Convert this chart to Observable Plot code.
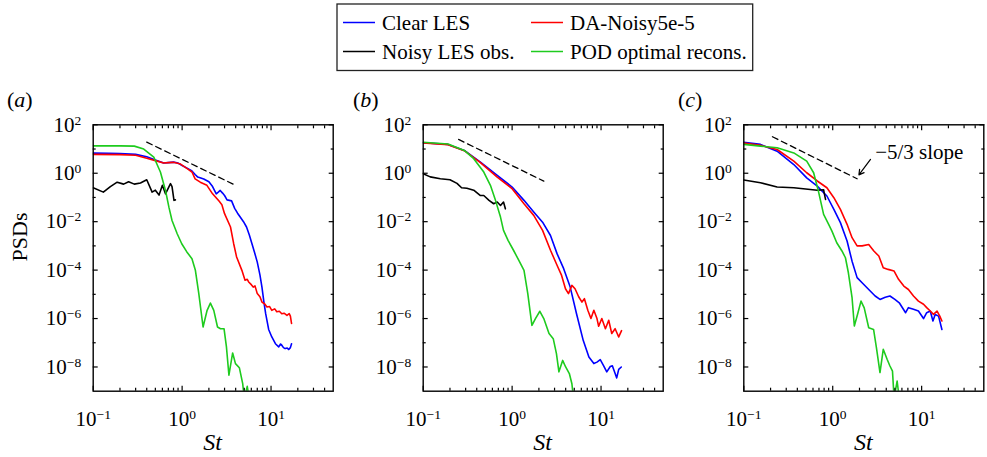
<!DOCTYPE html>
<html><head><meta charset="utf-8">
<script src="https://cdn.jsdelivr.net/npm/d3@7"></script>
<script src="https://cdn.jsdelivr.net/npm/@observablehq/plot@0.6"></script>
<style>
html,body{margin:0;padding:0;background:#fff;}
#chart{position:relative;width:987px;height:457px;overflow:hidden;font-family:"Liberation Serif","Times New Roman",serif;}
#chart svg{position:absolute;top:0;}
#chart text{font-family:"Liberation Serif","Times New Roman",serif;}
</style></head><body><div id="chart"></div>
<script>
// ---------- data: [St, log10(PSD)] ----------
const aClear = [[0.1,0.83],[0.15,0.82],[0.2,0.81],[0.3,0.78],[0.4,0.68],[0.5,0.55],[0.62,0.42],[0.7,0.44],[0.8,0.46],[0.9,0.42],[1.0,0.32],[1.15,0.2],[1.29,0.09],[1.4,-0.05],[1.5,-0.16],[1.75,-0.24],[2.0,-0.35],[2.2,-0.55],[2.42,-0.85],[2.55,-0.78],[2.68,-0.71],[2.85,-0.82],[3.0,-0.92],[3.2,-1.1],[3.4,-1.12],[3.6,-1.14],[3.9,-1.45],[4.2,-1.65],[4.5,-1.81],[4.9,-2.0],[5.3,-2.22],[5.7,-2.55],[6.1,-2.91],[6.5,-3.25],[7.0,-3.67],[7.5,-4.2],[7.9,-4.7],[8.3,-5.3],[8.7,-5.8],[9.4,-6.45],[10.2,-6.76],[11.2,-7.04],[12.2,-7.17],[12.8,-7.05],[13.2,-7.1],[13.8,-7.2],[14.4,-7.24],[15.2,-7.22],[15.8,-7.28],[16.5,-7.2],[17,-7.04]];
const aDA = [[0.1,0.78],[0.2,0.77],[0.3,0.74],[0.4,0.62],[0.5,0.52],[0.62,0.42],[0.7,0.44],[0.8,0.45],[0.96,0.38],[1.15,0.18],[1.29,0.05],[1.4,-0.23],[1.6,-0.37],[1.9,-0.5],[2.2,-0.85],[2.6,-1.15],[2.8,-1.3],[3.0,-1.67],[3.5,-2.22],[3.8,-2.91],[4.1,-3.46],[4.7,-4.01],[5.1,-4.42],[5.4,-4.38],[5.6,-4.49],[6.0,-4.6],[6.3,-4.7],[6.6,-4.65],[7.0,-4.97],[7.5,-5.1],[7.9,-5.32],[8.5,-5.4],[9.0,-5.52],[9.6,-5.5],[10.2,-5.66],[11,-5.6],[11.6,-5.72],[12.4,-5.7],[13.2,-5.8],[14,-5.78],[15.1,-5.87],[16,-5.8],[16.5,-5.9],[17,-6.2]];
const aPOD = [[0.1,1.13],[0.2,1.13],[0.29,1.12],[0.37,1.0],[0.48,0.67],[0.57,0.05],[0.65,-0.71],[0.71,-1.4],[0.77,-1.95],[0.88,-2.5],[0.99,-2.91],[1.13,-3.25],[1.29,-3.53],[1.41,-4.01],[1.54,-4.97],[1.72,-6.35],[1.91,-5.66],[2.08,-5.36],[2.27,-5.66],[2.5,-6.35],[2.7,-6.42],[2.96,-6.42],[3.15,-7.17],[3.36,-8.34],[3.7,-7.42],[3.98,-7.86],[4.4,-8.03],[4.8,-8.69],[5.0,-9.3],[5.4,-8.8],[5.8,-9.5]];
const aNoisy = [[0.1,-0.6],[0.13,-0.78],[0.156,-0.55],[0.186,-0.37],[0.22,-0.45],[0.25,-0.35],[0.29,-0.45],[0.34,-0.4],[0.4,-0.27],[0.46,-0.78],[0.5,-0.7],[0.55,-0.9],[0.6,-0.5],[0.65,-0.85],[0.74,-0.43],[0.77,-0.55],[0.81,-1.12],[0.84,-1.1]];

const bClear = [[0.1,1.26],[0.19,1.19],[0.29,0.94],[0.44,0.46],[0.68,-0.09],[1.0,-0.57],[1.36,-1.12],[1.75,-1.6],[2.2,-2.02],[2.7,-2.57],[3.2,-3.32],[3.8,-3.94],[4.5,-4.7],[5.3,-5.8],[6.3,-6.9],[7.3,-7.59],[8.3,-7.86],[9.0,-7.8],[9.8,-7.7],[10.7,-7.95],[11.6,-8.2],[12.7,-7.98],[13.4,-7.95],[14.5,-8.3],[15,-8.45],[15.8,-8.1],[16.9,-8.0]];
const bDA = [[0.1,1.25],[0.19,1.18],[0.29,0.93],[0.44,0.44],[0.68,-0.16],[1.0,-0.64],[1.36,-1.26],[1.75,-1.74],[2.2,-2.36],[2.7,-3.18],[3.2,-3.8],[3.6,-4.22],[3.98,-4.77],[4.3,-4.97],[4.7,-4.63],[5.1,-4.77],[5.6,-5.1],[6.1,-5.32],[6.5,-5.18],[7.1,-5.66],[7.7,-6.0],[8.3,-5.66],[9.0,-6.0],[9.4,-6.32],[10.2,-6.0],[11.2,-6.42],[12.2,-6.07],[13.2,-6.62],[14.4,-6.42],[15.8,-6.76],[17,-6.5]];
const bPOD = [[0.1,1.28],[0.19,1.21],[0.29,0.94],[0.37,0.6],[0.48,0.05],[0.57,-0.5],[0.65,-1.12],[0.74,-1.81],[0.8,-2.36],[0.9,-2.77],[1.04,-3.19],[1.19,-3.6],[1.36,-4.01],[1.5,-4.97],[1.67,-6.28],[1.83,-6.0],[2.05,-5.7],[2.27,-6.0],[2.6,-6.62],[2.9,-6.83],[3.15,-7.45],[3.36,-8.2],[3.7,-7.73],[4.0,-8.0],[4.4,-8.27],[4.7,-8.69],[4.9,-9.3]];
const bNoisy = [[0.1,-0.02],[0.12,-0.15],[0.156,-0.23],[0.2,-0.27],[0.24,-0.42],[0.27,-0.6],[0.31,-0.62],[0.37,-0.7],[0.44,-0.92],[0.48,-0.92],[0.55,-1.12],[0.62,-1.26],[0.68,-1.19],[0.74,-1.33],[0.8,-1.19],[0.84,-1.47]];

const cClear = [[0.1,1.28],[0.154,1.19],[0.237,0.91],[0.365,0.36],[0.51,-0.19],[0.67,-0.53],[0.86,-0.94],[1.03,-1.49],[1.22,-2.04],[1.45,-2.8],[1.65,-3.63],[1.88,-4.31],[2.14,-4.52],[2.54,-4.8],[3.0,-5.07],[3.4,-5.21],[3.9,-5.12],[4.4,-5.07],[5.0,-5.21],[5.6,-5.35],[6.6,-5.76],[7.1,-5.55],[8.1,-5.62],[9.2,-5.69],[10.5,-6.0],[11.4,-5.76],[12.5,-5.69],[13.4,-6.1],[14.2,-5.83],[15.5,-5.9],[16.9,-6.45]];
const cDA = [[0.1,1.25],[0.154,1.15],[0.237,0.98],[0.365,0.5],[0.51,0.02],[0.67,-0.32],[0.86,-0.6],[1.03,-1.01],[1.22,-1.49],[1.45,-2.11],[1.65,-2.66],[1.88,-3.0],[2.14,-3.0],[2.54,-2.94],[2.9,-3.21],[3.3,-3.42],[3.7,-3.9],[4.2,-3.97],[4.9,-4.04],[5.5,-4.38],[6.3,-4.66],[7.1,-4.8],[8.1,-5.07],[9.2,-5.28],[10.5,-5.41],[11.4,-5.55],[12.5,-5.69],[13.6,-5.83],[14.9,-5.69],[16,-5.9],[16.9,-6.1]];
const cPOD = [[0.1,1.19],[0.154,1.12],[0.237,1.05],[0.365,0.84],[0.51,0.5],[0.61,0.02],[0.69,-0.74],[0.79,-1.7],[0.9,-2.11],[0.98,-2.39],[1.11,-2.87],[1.27,-3.21],[1.39,-3.49],[1.5,-4.11],[1.65,-5.14],[1.75,-6.31],[1.9,-5.83],[2.08,-5.28],[2.26,-5.56],[2.54,-6.38],[2.88,-6.45],[3.1,-7.2],[3.4,-8.23],[3.7,-7.27],[4.1,-7.69],[4.4,-7.96],[4.7,-8.17],[4.9,-9.3],[5.3,-8.58],[5.6,-9.3],[6.3,-9.3]];
const cNoisy = [[0.1,-0.28],[0.154,-0.39],[0.237,-0.57],[0.365,-0.6],[0.56,-0.67],[0.67,-0.7],[0.79,-0.68],[0.8,-0.8],[0.83,-1.08]];

// -5/3 slope reference segments [St, log10(PSD)]
const aSlope = [[0.4,1.285],[3.8,-0.46]];
const bSlope = [[0.25,1.395],[2.27,-0.325]];
const cSlope = [[0.21,1.505],[1.88,-0.228]];
const slopeNote = [{St:3.0, psd:7.4, text:"\u22125/3 slope"}];
const slopeArrow = [{St1:2.66, psd1:3.7, St2:1.97, psd2:0.86}];

// ticks
const xMajor = [0.1, 1, 10];
const xMinor = [0.2,0.3,0.4,0.5,0.6,0.7,0.8,0.9,2,3,4,5,6,7,8,9,20,30,40];
const yMajor = [1e2, 1e0, 1e-2, 1e-4, 1e-6, 1e-8];
const yMinor = [1e1, 1e-1, 1e-3, 1e-5, 1e-7];

const seriesNames = ["Clear LES","Noisy LES obs.","DA-Noisy5e-5","POD optimal recons."];
const seriesColors = ["#0000ff","#000000","#ff0000","#1ecb1e"];
const panelLabels = ["a","b","c"];

// ---------- layout ----------
const FONT = '"Liberation Serif","Times New Roman",serif';
const frameTop = 124.3, frameBottom = 390.7, H = 457;
const panels = [
  {svgLeft:0,   svgWidth:340, frameL:92.7,  frameR:332.7, clear:aClear, da:aDA, pod:aPOD, noisy:aNoisy, slope:aSlope, note:false},
  {svgLeft:340, svgWidth:330, frameL:422.7, frameR:662.7, clear:bClear, da:bDA, pod:bPOD, noisy:bNoisy, slope:bSlope, note:false},
  {svgLeft:670, svgWidth:317, frameL:743.3, frameR:983.3, clear:cClear, da:cDA, pod:cPOD, noisy:cNoisy, slope:cSlope, note:true}
];

const fmt = d => { const e = Math.round(Math.log10(d)); return "10^" + (e < 0 ? "\u2212" + (-e) : e); };
const X = d => d[0], Y = d => Math.pow(10, d[1]);

const chart = document.getElementById("chart");
const NS = "http://www.w3.org/2000/svg";

panels.forEach((p, i) => {
  const lineOpts = (c) => ({x: X, y: Y, stroke: c, strokeWidth: 1.6, clip: true});
  const marks = [
    Plot.line(p.clear, lineOpts(seriesColors[0])),
    Plot.line(p.noisy, lineOpts(seriesColors[1])),
    Plot.line(p.da, lineOpts(seriesColors[2])),
    Plot.line(p.pod, lineOpts(seriesColors[3])),
    Plot.line(p.slope, {x: X, y: Y, stroke: "#000", strokeWidth: 1.3, strokeDasharray: "6,4"}),
    Plot.frame({stroke: "#000", strokeWidth: 1.4}),
    // inward ticks on all four sides
    Plot.axisX(xMajor, {anchor: "bottom", tickSize: -5, fill: "none", label: null, strokeWidth: 1.2}),
    Plot.axisX(xMinor, {anchor: "bottom", tickSize: -3, fill: "none", label: null, strokeWidth: 1.2}),
    Plot.axisX(xMajor, {anchor: "top", tickSize: -5, fill: "none", label: null, strokeWidth: 1.2}),
    Plot.axisX(xMinor, {anchor: "top", tickSize: -3, fill: "none", label: null, strokeWidth: 1.2}),
    Plot.axisY(yMajor, {anchor: "left", tickSize: -5, fill: "none", label: null, strokeWidth: 1.2}),
    Plot.axisY(yMinor, {anchor: "left", tickSize: -3, fill: "none", label: null, strokeWidth: 1.2}),
    Plot.axisY(yMajor, {anchor: "right", tickSize: -5, fill: "none", label: null, strokeWidth: 1.2}),
    Plot.axisY(yMinor, {anchor: "right", tickSize: -3, fill: "none", label: null, strokeWidth: 1.2}),
    // tick labels
    Plot.axisX(xMajor, {anchor: "bottom", tickSize: 0, tickPadding: 20, tickFormat: fmt, label: null, fontSize: 21, fill: "#000"}),
    Plot.axisY(yMajor, {anchor: "left", tickSize: 0, tickPadding: 12, tickFormat: fmt, label: null, fontSize: 21, fill: "#000"})
  ];
  if (p.note) {
    marks.push(Plot.text(slopeNote, {x: "St", y: "psd", text: "text", textAnchor: "start", fontSize: 21, fill: "#000"}));
    marks.push(Plot.arrow(slopeArrow, {x1: "St1", y1: "psd1", x2: "St2", y2: "psd2", stroke: "#000", strokeWidth: 1.2, headLength: 7}));
  }
  const svg = Plot.plot({
    width: p.svgWidth, height: H,
    marginLeft: p.frameL - p.svgLeft,
    marginRight: p.svgLeft + p.svgWidth - p.frameR,
    marginTop: frameTop, marginBottom: H - frameBottom,
    x: {type: "log", domain: [0.1, 50]},
    y: {type: "log", domain: [1e-9, 100]},
    style: {fontFamily: FONT, fontSize: "21px", background: "transparent", overflow: "visible", color: "#000"},
    marks
  });
  svg.style.left = p.svgLeft + "px";
  // superscript exponents
  svg.querySelectorAll('[aria-label$="tick label"] text').forEach(t => {
    const m = (t.textContent || "").match(/^10\^(.+)$/);
    if (!m) return;
    t.textContent = "";
    const a = document.createElementNS(NS, "tspan"); a.textContent = "10";
    const b = document.createElementNS(NS, "tspan"); b.textContent = m[1];
    b.setAttribute("font-size", "13.5"); b.setAttribute("dy", "-7");
    t.appendChild(a); t.appendChild(b);
  });
  chart.appendChild(svg);
});

// ---------- overlay: legend, panel letters, axis titles ----------
const ov = d3.select(chart).append("svg")
  .attr("width", 987).attr("height", H)
  .style("left", "0px").style("pointer-events", "none")
  .attr("font-family", FONT);

// legend
const lg = ov.append("g");
lg.append("rect").attr("x", 337).attr("y", 4).attr("width", 415.7).attr("height", 66.5)
  .attr("fill", "none").attr("stroke", "#222").attr("stroke-width", 1.3);
const legendPos = [
  {i: 0, x: 343, y: 22.5},
  {i: 1, x: 343, y: 51.5},
  {i: 2, x: 531, y: 22.5},
  {i: 3, x: 531, y: 51.5}
];
legendPos.forEach(d => {
  lg.append("line").attr("x1", d.x).attr("x2", d.x + 32).attr("y1", d.y).attr("y2", d.y)
    .attr("stroke", seriesColors[d.i]).attr("stroke-width", 1.5);
  lg.append("text").attr("x", d.x + 39).attr("y", d.y + 7).attr("font-size", 21)
    .attr("font-family", FONT).attr("fill", "#000").text(seriesNames[d.i]);
});

// panel letters
const letterX = [7, 353, 678];
panelLabels.forEach((l, i) => {
  const t = ov.append("text").attr("x", letterX[i]).attr("y", 107).attr("font-size", 22)
    .attr("font-family", FONT).attr("fill", "#000");
  t.append("tspan").text("(");
  t.append("tspan").attr("font-style", "italic").text(l);
  t.append("tspan").text(")");
});

// axis titles
ov.append("text").attr("transform", "translate(27,237) rotate(-90)").attr("text-anchor", "middle")
  .attr("font-size", 22).attr("font-family", FONT).attr("fill", "#000").text("PSDs");
panels.forEach(p => {
  ov.append("text").attr("x", (p.frameL + p.frameR) / 2).attr("y", 450).attr("text-anchor", "middle")
    .attr("font-size", 24).attr("font-style", "italic").attr("font-family", FONT).attr("fill", "#000").text("St");
});
</script></body></html>
